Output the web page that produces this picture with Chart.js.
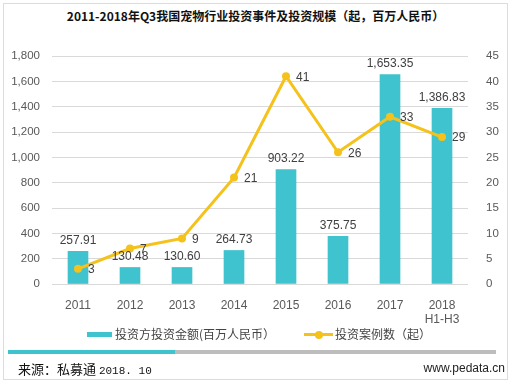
<!DOCTYPE html>
<html>
<head>
<meta charset="utf-8">
<script src="https://cdn.jsdelivr.net/npm/chart.js@4"></script>
<style>
  body { margin: 0; background: #fff; font-family: "Liberation Sans", Arial, sans-serif; }
  #wrap { position: relative; width: 511px; height: 385px; overflow: hidden; }
  #frame { position: absolute; left: 3px; top: 3px; width: 503px; height: 375px; border: 1px solid #dcdcdc; }
  #title { position: absolute; left: 0; width: 511px; top: 7px; text-align: center;
           font: bold 12px "Noto Sans CJK SC", sans-serif; color: #111; }
  canvas { position: absolute; left: 0; top: 0; }
  .legend { position: absolute; top: 325px; font: 12px "Noto Sans CJK SC", sans-serif; color: #444; }
  .sw-bar { position: absolute; width: 25px; height: 5px; background: #3fc3cf; }
  .sw-line { position: absolute; width: 29px; height: 3px; background: #f5c21b; }
  .sw-dot { position: absolute; width: 8px; height: 8px; border-radius: 50%; background: #f5c21b; }
  #rule1 { position: absolute; left: 8px; top: 350px; width: 167px; height: 4px; background: #3fc3cf; }
  #rule2 { position: absolute; left: 175px; top: 350px; width: 321px; height: 4px; background: #bdbdbd; }
  #src { position: absolute; left: 18px; top: 359px; font: 13px "Noto Sans CJK SC", sans-serif; color: #111; }
  #src span { font: 11px "Liberation Mono", monospace; }
  #site { position: absolute; right: 6px; top: 361px; font: 12px "Liberation Sans", Arial, sans-serif; color: #222; }
</style>
</head>
<body>
<div id="wrap">
  <div id="frame"></div>
  <div id="title">2011-2018年Q3我国宠物行业投资事件及投资规模（起，百万人民币）</div>
  <canvas id="c" width="511" height="385"></canvas>
  <div class="sw-bar" style="left:87px;top:332px"></div>
  <div class="legend" style="left:115px">投资方投资金额(百万人民币）</div>
  <div class="sw-line" style="left:304px;top:333px"></div>
  <div class="sw-dot" style="left:315px;top:331px"></div>
  <div class="legend" style="left:335px">投资案例数（起）</div>
  <div id="rule1"></div>
  <div id="rule2"></div>
  <div id="src">来源：私募通 <span>2018. 10</span></div>
  <div id="site">www.pedata.cn</div>
</div>
<script>
const years = ['2011', '2012', '2013', '2014', '2015', '2016', '2017', ['2018', 'H1-H3']];
const amounts = [257.91, 130.48, 130.60, 264.73, 903.22, 375.75, 1653.35, 1386.83];
const cases = [3, 7, 9, 21, 41, 26, 33, 29];

const teal = '#3fc3cf';
const gold = '#f5c21b';
const tickColor = '#595959';

// value labels: above bars, right of line points
const valueLabels = {
  id: 'valueLabels',
  afterDatasetsDraw(chart) {
    const ctx = chart.ctx;
    ctx.save();
    ctx.font = '12px "Liberation Sans", Arial, sans-serif';
    ctx.fillStyle = '#404040';
    chart.getDatasetMeta(0).data.forEach((bar, i) => {
      ctx.textAlign = 'center';
      ctx.textBaseline = 'bottom';
      const txt = amounts[i].toLocaleString('en-US', { minimumFractionDigits: 2 });
      ctx.fillText(txt, bar.x, bar.y - 5);
    });
    chart.getDatasetMeta(1).data.forEach((pt, i) => {
      ctx.textAlign = 'left';
      ctx.textBaseline = 'middle';
      ctx.fillText(String(cases[i]), pt.x + 10, pt.y + 1);
    });
    ctx.restore();
  }
};

new Chart(document.getElementById('c'), {
  data: {
    labels: years,
    datasets: [{
      type: 'bar',
      label: '投资方投资金额(百万人民币）',
      data: amounts,
      backgroundColor: teal,
      barThickness: 20,
      yAxisID: 'y',
      order: 2
    }, {
      type: 'line',
      label: '投资案例数（起）',
      data: cases,
      borderColor: gold,
      backgroundColor: gold,
      borderWidth: 3,
      pointRadius: 4,
      pointBackgroundColor: gold,
      pointBorderWidth: 0,
      tension: 0,
      yAxisID: 'y1',
      order: 1
    }]
  },
  options: {
    responsive: false,
    animation: false,
    layout: { padding: { left: 4, right: 3, top: 56, bottom: 61 } },
    plugins: { legend: { display: false }, tooltip: { enabled: false } },
    scales: {
      x: {
        grid: { display: false },
        border: { display: false },
        ticks: { color: tickColor, font: { size: 12 }, padding: 6, maxRotation: 0 },
        afterFit: s => { s.height = 40; }
      },
      y: {
        position: 'left',
        min: 0, max: 1800,
        ticks: { stepSize: 200, color: tickColor, font: { size: 11.5 }, padding: 12 },
        grid: { color: '#d9d9d9', drawTicks: false },
        border: { display: false },
        afterFit: s => { s.width = 48; }
      },
      y1: {
        position: 'right',
        min: 0, max: 45,
        ticks: { stepSize: 5, color: tickColor, font: { size: 11.5 }, padding: 10 },
        grid: { display: false },
        border: { display: false },
        afterFit: s => { s.width = 40; }
      }
    }
  },
  plugins: [valueLabels]
});
</script>
</body>
</html>
